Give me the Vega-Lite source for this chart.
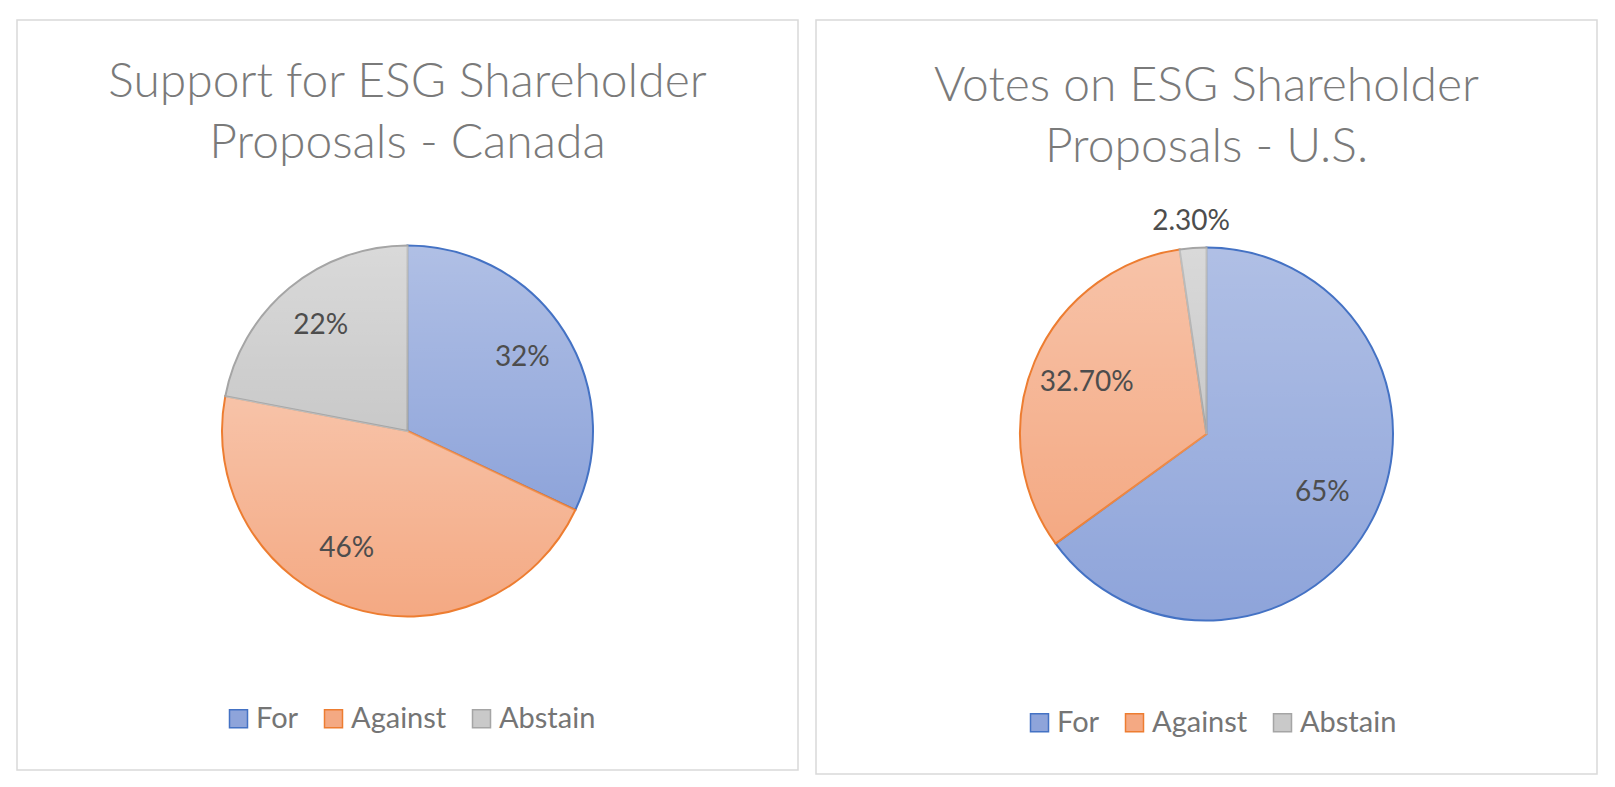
{
  "$schema": "https://vega.github.io/schema/vega-lite/v6.json",
  "background": "white",
  "padding": {"left": 16, "top": 19, "right": 0, "bottom": 0},
  "spacing": 16,
  "config": {
    "font": "Lato",
    "title": {"font": "Lato", "fontWeight": 300, "fontSize": 48, "color": "#7a7a7a", "anchor": "middle", "frame": "group", "baseline": "top", "lineHeight": 61},
    "legend": {"labelFont": "Lato", "labelFontSize": 29, "labelColor": "#757575", "symbolType": "square", "symbolSize": 324, "symbolStrokeWidth": 1.5, "columnPadding": 20, "labelOffset": 3, "title": null, "direction": "horizontal", "orient": "none"}
  },
  "resolve": {"scale": {"fill": "independent", "stroke": "independent"}, "legend": {"fill": "independent", "stroke": "independent"}},
  "hconcat": [
    {
      "width": 781,
      "height": 750,
      "view": {"stroke": "#d9d9d9", "strokeWidth": 1.5},
      "title": {"text": ["Support for ESG Shareholder", "Proposals - Canada"], "offset": -148},
      "data": {"values": [
        {"Vote": "For", "Share": 32, "Label": "32%"},
        {"Vote": "Against", "Share": 46, "Label": "46%"},
        {"Vote": "Abstain", "Share": 22, "Label": "22%"}
      ]},
      "transform": [{"window": [{"op": "row_number", "as": "Order"}]}],
      "encoding": {
        "theta": {"field": "Share", "type": "quantitative", "stack": true},
        "order": {"field": "Order", "type": "quantitative"}
      },
      "layer": [
        {
          "mark": {"type": "arc", "outerRadius": 185.5, "yOffset": 36, "strokeWidth": 2},
          "encoding": {
            "fill": {"field": "Vote", "type": "nominal", "sort": ["For", "Against", "Abstain"],
              "scale": {"domain": ["For", "Against", "Abstain"], "range": ["#8ea4da", "#f4a983", "#c9c9c9"]},
              "legend": {"legendX": 207, "legendY": 684}},
            "stroke": {"field": "Vote", "type": "nominal", "sort": ["For", "Against", "Abstain"],
              "scale": {"domain": ["For", "Against", "Abstain"], "range": ["#4472c4", "#ed7d31", "#a5a5a5"]},
              "legend": {"legendX": 207, "legendY": 684}}
          }
        },
        {
          "mark": {"type": "arc", "outerRadius": 184.5, "yOffset": 36, "strokeWidth": 0,
            "fill": {"gradient": "linear", "x1": 0, "y1": 0, "x2": 0, "y2": 1, "stops": [{"offset": 0, "color": "rgba(255,255,255,0.3)"}, {"offset": 1, "color": "rgba(255,255,255,0)"}]}},
          "encoding": {"detail": {"field": "Vote", "type": "nominal"}}
        },
        {
          "mark": {"type": "text", "radius": 136, "dy": 36, "font": "Lato", "fontSize": 28, "color": "#4d4d4d"},
          "encoding": {
            "text": {"condition": {"test": "datum.Vote === 'Against'", "value": ""}, "field": "Label", "type": "nominal"},
            "detail": {"field": "Vote", "type": "nominal"}
          }
        },
        {
          "mark": {"type": "text", "radius": 133, "thetaOffset": 0.16, "dy": 36, "font": "Lato", "fontSize": 28, "color": "#4d4d4d"},
          "encoding": {
            "text": {"condition": {"test": "datum.Vote !== 'Against'", "value": ""}, "field": "Label", "type": "nominal"},
            "detail": {"field": "Vote", "type": "nominal"}
          }
        }
      ]
    },
    {
      "width": 781,
      "height": 754,
      "view": {"stroke": "#d9d9d9", "strokeWidth": 1.5},
      "title": {"text": ["Votes on ESG Shareholder", "Proposals - U.S."], "offset": -152},
      "data": {"values": [
        {"Vote": "For", "Share": 65, "Label": "65%"},
        {"Vote": "Against", "Share": 32.7, "Label": "32.70%"},
        {"Vote": "Abstain", "Share": 2.3, "Label": "2.30%"}
      ]},
      "transform": [{"window": [{"op": "row_number", "as": "Order"}]}],
      "encoding": {
        "theta": {"field": "Share", "type": "quantitative", "stack": true},
        "order": {"field": "Order", "type": "quantitative"}
      },
      "layer": [
        {
          "mark": {"type": "arc", "outerRadius": 186.5, "yOffset": 37, "strokeWidth": 2},
          "encoding": {
            "fill": {"field": "Vote", "type": "nominal", "sort": ["For", "Against", "Abstain"],
              "scale": {"domain": ["For", "Against", "Abstain"], "range": ["#8ea4da", "#f4a983", "#c9c9c9"]},
              "legend": {"legendX": 209, "legendY": 688}},
            "stroke": {"field": "Vote", "type": "nominal", "sort": ["For", "Against", "Abstain"],
              "scale": {"domain": ["For", "Against", "Abstain"], "range": ["#4472c4", "#ed7d31", "#a5a5a5"]},
              "legend": {"legendX": 209, "legendY": 688}}
          }
        },
        {
          "mark": {"type": "arc", "outerRadius": 185.5, "yOffset": 37, "strokeWidth": 0,
            "fill": {"gradient": "linear", "x1": 0, "y1": 0, "x2": 0, "y2": 1, "stops": [{"offset": 0, "color": "rgba(255,255,255,0.3)"}, {"offset": 1, "color": "rgba(255,255,255,0)"}]}},
          "encoding": {"detail": {"field": "Vote", "type": "nominal"}}
        },
        {
          "mark": {"type": "text", "radius": 130, "dy": 37, "font": "Lato", "fontSize": 28, "color": "#4d4d4d"},
          "encoding": {
            "text": {"condition": {"test": "datum.Vote === 'Abstain'", "value": ""}, "field": "Label", "type": "nominal"},
            "detail": {"field": "Vote", "type": "nominal"}
          }
        },
        {
          "mark": {"type": "text", "radius": 213, "dy": 37, "font": "Lato", "fontSize": 28, "color": "#4d4d4d"},
          "encoding": {
            "text": {"condition": {"test": "datum.Vote !== 'Abstain'", "value": ""}, "field": "Label", "type": "nominal"},
            "detail": {"field": "Vote", "type": "nominal"}
          }
        }
      ]
    }
  ]
}
